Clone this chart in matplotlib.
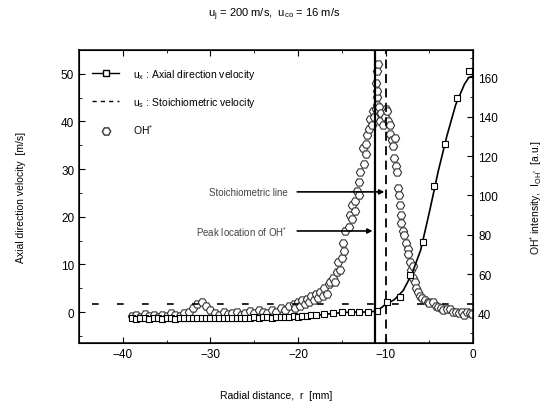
import numpy as np
import matplotlib.pyplot as plt

plt.rcParams['font.family'] = ['Liberation Sans', 'DejaVu Sans']
plt.rcParams['mathtext.fontset'] = 'custom'
plt.rcParams['mathtext.rm'] = 'Liberation Sans'
plt.rcParams['mathtext.it'] = 'Liberation Sans:italic'

# axial velocity u_x [m/s], smooth curve
curve_r = [-39.0, -35.0, -30.0, -25.0, -20.0, -18.0, -16.0, -14.0, -12.0, -11.0,
           -10.0, -9.0, -8.0, -7.0, -6.0, -5.0, -4.0, -3.0, -2.0, -1.0, -0.5, 0.0]
curve_u = [-1.3, -1.3, -1.3, -1.2, -1.0, -0.7, -0.3, 0.0, 0.0, 0.2,
           1.6, 2.6, 4.5, 8.0, 13.0, 21.0, 29.5, 37.0, 43.5, 47.8, 49.2, 49.5]

# axial velocity markers
vel_r = [-39.0, -38.5, -38.0, -37.5, -37.0, -36.5, -36.0, -35.5, -35.0, -34.5,
         -34.0, -33.5, -33.0, -32.5, -32.0, -31.5, -31.0, -30.5, -30.0, -29.5,
         -29.0, -28.5, -28.0, -27.5, -27.0, -26.5, -26.0, -25.5, -25.0, -24.5,
         -24.0, -23.5, -23.0, -22.5, -22.0, -21.5, -21.0, -20.5, -20.0, -19.5,
         -19.0, -18.5, -18.0, -17.0, -16.0, -15.0, -14.0, -13.0, -12.0,
         -11.0, -9.8, -8.4, -7.2, -5.7, -4.5, -3.2, -1.85, -0.5]
vel_u = [-1.3, -1.4, -1.3, -1.3, -1.4, -1.3, -1.3, -1.4, -1.3, -1.3,
         -1.4, -1.3, -1.3, -1.2, -1.3, -1.3, -1.2, -1.3, -1.3, -1.2,
         -1.3, -1.2, -1.3, -1.2, -1.2, -1.3, -1.2, -1.2, -1.1, -1.2,
         -1.1, -1.1, -1.2, -1.0, -1.1, -1.0, -1.0, -0.9, -1.0, -0.8,
         -0.8, -0.7, -0.6, -0.4, -0.2, 0.0, 0.1, -0.1, 0.0,
         0.2, 2.1, 3.2, 7.8, 14.7, 26.5, 35.3, 45.0, 50.6]

# stoichiometric velocity u_s [m/s]
stoich_r = [-43.5, 0.0]
stoich_u = [1.6, 1.6]

# OH* chemiluminescence intensity [a.u.]
oh_r = [-39.0, -38.5, -38.0, -37.5, -37.0, -36.5, -36.0, -35.5, -35.0, -34.5,
        -34.0, -33.5, -33.0, -32.5, -32.0, -31.5, -31.0, -30.5, -30.0, -29.5,
        -29.0, -28.5, -28.0, -27.5, -27.0, -26.5, -26.0, -25.5, -25.0, -24.5,
        -24.0, -23.5, -23.0, -22.5, -22.0, -21.5, -21.0,
        -20.5, -20.3, -20.0, -19.8, -19.5, -19.2, -19.0, -18.7, -18.5, -18.2,
        -18.0, -17.7, -17.5, -17.2, -17.0, -16.7, -16.5, -16.3, -16.0, -15.8,
        -15.5, -15.2, -15.4, -15.0, -14.7, -14.9, -14.6, -14.2, -14.1, -13.8,
        -13.8, -13.5, -13.5, -13.3, -13.0, -13.0, -12.9, -12.5, -12.6, -12.2,
        -12.2, -12.1, -11.9, -11.8, -11.6, -11.4, -11.3, -11.1, -11.0, -11.0,
        -11.0, -11.1, -11.0, -10.9,
        -10.8, -10.6, -10.5, -10.3, -10.1, -10.0, -9.8, -9.7, -9.5, -9.5,
        -9.3, -9.2, -9.0, -8.9, -8.8, -8.7, -8.6, -8.5, -8.4, -8.3,
        -8.2, -8.0, -7.9, -7.7, -7.5, -7.4, -7.2, -7.1, -6.9, -6.9,
        -6.7, -6.5, -6.3, -6.1, -5.8, -5.5, -5.2, -5.0, -4.6, -4.3,
        -4.0, -3.7, -3.4, -3.0, -2.6, -2.3, -2.0, -1.6, -1.3, -1.0,
        -0.7, -0.4, -0.1]
oh_i = [38.5, 39.0, 38.0, 39.5, 38.5, 39.0, 38.0, 39.0, 38.5, 40.0,
        39.0, 38.5, 40.0, 41.0, 43.0, 45.0, 46.0, 44.0, 42.0, 40.0,
        39.0, 40.5, 39.5, 40.0, 41.0, 39.0, 40.0, 41.5, 40.0, 42.0,
        41.0, 40.0, 42.0, 41.0, 43.0, 42.0, 44.0,
        45.0, 43.0, 46.0, 44.0, 47.0, 45.0, 47.6, 46.0, 49.0, 47.0,
        50.0, 48.0, 51.0, 49.0, 52.7, 50.0, 55.0, 56.0, 58.0, 56.0,
        61.0, 62.0, 66.0, 68.0, 72.0, 76.0, 81.7, 84.0, 90.0, 88.0,
        95.0, 92.0, 97.0, 102.0, 100.0, 107.0, 112.0, 116.0, 124.0, 121.0,
        126.0, 130.6, 134.0, 139.0, 136.0, 143.0, 140.0, 144.0, 146.0, 150.0,
        153.0, 157.0, 163.0, 167.0,
        145.0, 138.0, 142.0, 136.0, 140.0, 144.0, 143.0, 138.0, 135.7, 131.0,
        128.0, 125.0, 119.0, 129.0, 115.0, 112.0, 103.6, 100.0, 95.0, 90.0,
        86.0, 82.0, 80.0, 76.0, 73.0, 70.0, 66.0, 62.0, 64.0, 58.0,
        56.0, 53.0, 51.0, 49.0, 48.0, 47.0, 46.0, 45.5, 46.0, 44.0,
        43.5, 43.0, 42.0, 42.5, 42.5, 41.0, 40.5, 40.0, 41.0, 39.0,
        41.0, 40.0, 39.5]

r_peak = -11.2
r_stoich = -10.0

fig = plt.figure(figsize=(5.49, 4.10), dpi=100)
ax = fig.add_axes([0.144, 0.161, 0.718, 0.715])
ax2 = ax.twinx()

# OH* on the right axis, drawn first so velocity sits on top
ax2.plot(oh_r, oh_i, linestyle='none', marker='H', markersize=6,
         markerfacecolor='white', markeredgecolor='#333333', markeredgewidth=0.8)

ax.set_zorder(ax2.get_zorder() + 1)
ax.patch.set_visible(False)

ax.plot(curve_r, curve_u, color='black', linewidth=1.2)
ax.plot(vel_r, vel_u, linestyle='none', marker='s', markersize=4.5,
        markerfacecolor='white', markeredgecolor='black', markeredgewidth=0.8)
ax.plot(stoich_r, stoich_u, color='black', linewidth=1.2, linestyle=(0, (4, 11)))

ax.axvline(r_peak, color='black', linewidth=1.6)
ax.axvline(r_stoich, color='black', linewidth=1.3, linestyle=(0, (5, 3)))

# legend handles
h1, = ax.plot([], [], color='black', linewidth=1.0, marker='s', markersize=4.5,
              markerfacecolor='white', markeredgecolor='black')
h2, = ax.plot([], [], color='black', linewidth=1.0, linestyle=(0, (3, 3)))
h3, = ax.plot([], [], linestyle='none', marker='H', markersize=6,
              markerfacecolor='white', markeredgecolor='#333333')
ax.legend([h1, h2, h3],
          [r'u$_\mathrm{x}$ : Axial direction velocity',
           r'u$_\mathrm{s}$ : Stoichiometric velocity',
           r'OH$^{*}$'],
          loc='upper left', frameon=False, fontsize=7.5, labelspacing=1.35,
          handlelength=2.6, handletextpad=1.3, bbox_to_anchor=(0.01, 0.975))

ax.annotate('Stoichiometric line', xy=(-10.15, 25.2), xytext=(-21.2, 25.2),
            ha='right', va='center', fontsize=7, color='#444444',
            arrowprops=dict(arrowstyle='-|>', color='black', lw=1.2,
                            shrinkA=5, shrinkB=0))
ax.annotate(r'Peak location of OH$^{*}$', xy=(-11.5, 17.0), xytext=(-21.2, 17.0),
            ha='right', va='center', fontsize=7, color='#444444',
            arrowprops=dict(arrowstyle='-|>', color='black', lw=1.2,
                            shrinkA=5, shrinkB=0))

ax.set_xlim(-45, 0)
ax.set_ylim(-6.5, 55)
ax2.set_ylim(25, 174)

ax.set_xticks([-40, -30, -20, -10, 0])
ax.set_xticks([-45, -35, -25, -15, -5], minor=True)
ax.set_yticks([0, 10, 20, 30, 40, 50])
ax.set_yticks([-5, 5, 15, 25, 35, 45, 55], minor=True)
ax2.set_yticks([40, 60, 80, 100, 120, 140, 160])
ax2.set_yticks([30, 50, 70, 90, 110, 130, 150, 170], minor=True)

ax.tick_params(axis='both', which='both', direction='in', labelsize=8.5, top=True, right=False)
ax.tick_params(which='major', length=4)
ax.tick_params(which='minor', length=2)
ax2.tick_params(axis='y', which='both', direction='in', labelsize=8.5)
ax2.tick_params(which='major', length=4)
ax2.tick_params(which='minor', length=2)

for sp in ax.spines.values():
    sp.set_linewidth(1.1)

ax.set_xlabel('Radial distance,  r  [mm]', fontsize=7.5, labelpad=22)
ax.set_ylabel('Axial direction velocity  [m/s]', fontsize=7.5, labelpad=25)
ax2.set_ylabel(r'OH$^{*}$ intensity,  I$_{\mathrm{OH}^{*}}$  [a.u.]', fontsize=7.5,
               rotation=90, labelpad=22)

fig.text(0.5, 0.963, r'u$_\mathrm{j}$ = 200 m/s,  u$_\mathrm{co}$ = 16 m/s',
         ha='center', va='center', fontsize=8)

fig.savefig('out.png', dpi=100)
